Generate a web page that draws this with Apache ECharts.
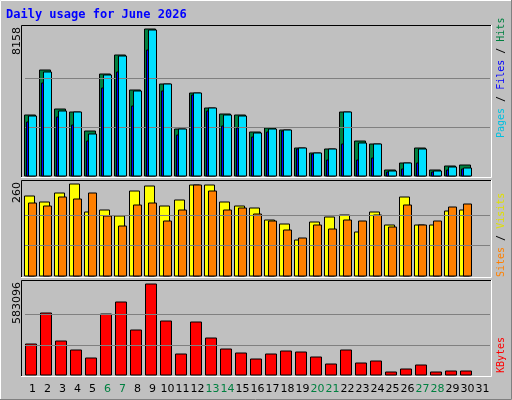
<!DOCTYPE html>
<html><head><meta charset="utf-8">
<script src="https://cdn.jsdelivr.net/npm/echarts@6/dist/echarts.min.js"></script>
<style>html,body{margin:0;padding:0;background:#c0c0c0}#c{width:512px;height:400px}</style>
</head><body><div id="c"></div>
<script>
const days = ['1','2','3','4','5','6','7','8','9','10','11','12','13','14','15','16','17','18','19','20','21','22','23','24','25','26','27','28','29','30','31'];
const weekend = ['6','7','13','14','20','21','27','28'];
const hits = [3404,5901,3737,3570,2516,5680,6752,4791,8158,5124,2645,4625,3792,3460,3404,2460,2682,2571,1572,1295,1517,3570,1961,1794,351,740,1591,351,592,629];
const files = [3330,5809,3626,3570,2350,5625,6678,4736,8103,5124,2627,4625,3774,3404,3330,2387,2627,2553,1572,1277,1517,3570,1850,1776,278,722,1517,278,518,463];
const pages = [3016,5180,3293,2849,1961,4884,5791,3904,7012,4736,2294,4514,3626,2794,2683,2183,2461,2516,1517,1240,907,1795,907,1018,241,407,740,241,352,407];
const visits = [226,209,235,260,181,187,170,240,254,198,215,257,257,209,198,192,158,147,104,153,167,173,125,181,144,223,144,144,184,187];
const sites = [206,198,224,218,235,170,141,201,206,155,187,257,240,187,192,175,155,132,107,144,133,158,155,173,138,201,144,155,195,203];
const kbytes = [198648,397296,217872,160200,108936,390888,467784,288360,583096,346032,134568,339624,237096,166608,140976,102528,134568,153792,147384,115344,70488,160200,76896,89712,19224,38448,64080,19224,25632,25632];
const maxLabels = ['8158','260','583096'];

const panels = [{y0:25,y1:177,top:29.3,base:176.3},{y0:180,y1:277,top:184.3,base:276.3},{y0:280,y1:376,top:284.3,base:375.3}];
const maxes = [8158,260,583096];

function bar(name, gi, data, o0, o1, color, z){
  return {type:'custom', name, xAxisIndex:gi, yAxisIndex:gi, z,
    data: data.map((v,i)=>[i,v]),
    renderItem:(p,api)=>{
      const t=api.coord([api.value(0),api.value(1)]), b=api.coord([api.value(0),0]);
      return {type:'rect', shape:{x:t[0]+o0, y:Math.round(t[1]), width:o1-o0, height:Math.round(b[1])-Math.round(t[1])},
        style:{fill:color, stroke:'#000', lineWidth:1}};
    }};
}
function gridLines(gi, m){
  return {type:'line', xAxisIndex:gi, yAxisIndex:gi, data:[], z:1, silent:true,
    markLine:{symbol:'none', silent:true, label:{show:false}, lineStyle:{color:'#808080', type:'solid', width:1},
      data:[{yAxis:m/3},{yAxis:2*m/3}]}};
}
const grids = panels.map(p=>({left:25, width:465, top:p.top, height:p.base-p.top}));
const xAxes = panels.map((p,i)=>({type:'category', gridIndex:i, data:days, axisLine:{show:false}, axisTick:{show:false}, splitLine:{show:false},
  axisLabel:{show:i===2, margin:8, fontFamily:'DejaVu Sans', fontSize:11, interval:0,
    formatter:v=>weekend.includes(v)?'{w|'+v+'}':'{n|'+v+'}', rich:{w:{color:'#008040',fontFamily:'DejaVu Sans',fontSize:11},n:{color:'#000',fontFamily:'DejaVu Sans',fontSize:11}}}}));
const yAxes = panels.map((p,i)=>({type:'value', gridIndex:i, min:0, max:maxes[i], show:false, splitLine:{show:false}}));

const graphics = [
  {type:'rect', shape:{x:0.5,y:0.5,width:511,height:399}, style:{fill:'#c0c0c0', stroke:'#ffffff'}, z:-10},
  {type:'polyline', shape:{points:[[511.5,0],[511.5,399.5],[0,399.5]]}, style:{stroke:'#808080', fill:null, lineWidth:1}, z:-9},
  {type:'text', left:6, top:9, style:{text:'Daily usage for June 2026', fill:'#0000ff', font:'bold 12px "DejaVu Sans Mono"'}}
];
panels.forEach((p,i)=>{
  graphics.push({type:'rect', shape:{x:21,y:p.y0,width:470,height:p.y1-p.y0}, style:{fill:'#c0c0c0'}, z:-8});
  graphics.push({type:'polyline', shape:{points:[[21.5,p.y1],[21.5,p.y0+0.5],[491,p.y0+0.5]]}, style:{stroke:'#000', fill:null}, z:-7});
  graphics.push({type:'polyline', shape:{points:[[491.5,p.y0],[491.5,p.y1+0.5],[21,p.y1+0.5]]}, style:{stroke:'#fff', fill:null}, z:-7});
  graphics.push({type:'text', x:17, y:p.y0+2, rotation:Math.PI/2, style:{text:maxLabels[i], fill:'#000', font:'11px "DejaVu Sans"', align:'right', verticalAlign:'middle'}});
});
const legends = [
  {y:138, parts:[['Pages','#00c0e0'],[' / ','#000'],['Files','#0000ff'],[' / ','#000'],['Hits','#008040']]},
  {y:277, parts:[['Sites','#ff8000'],[' / ','#000'],['Visits','#e0e000']]},
  {y:373, parts:[['KBytes','#ff0000']]}
];
legends.forEach(l=>{
  const rich={}; let txt='';
  l.parts.forEach((pt,k)=>{rich['s'+k]={fill:pt[1], font:'10px "DejaVu Sans Mono"'}; txt+='{s'+k+'|'+pt[0].replace(/ /g,'\u00a0')+'}';});
  graphics.push({type:'text', x:501, y:l.y, rotation:Math.PI/2, style:{text:txt, rich, font:'10px "DejaVu Sans Mono"', align:'left', verticalAlign:'middle'}});
});

const chart = echarts.init(document.getElementById('c'), null, {renderer:'canvas'});
chart.setOption({
  animation:false, backgroundColor:'#c0c0c0',
  grid:grids, xAxis:xAxes, yAxis:yAxes, graphic:graphics,
  series:[
    gridLines(0,maxes[0]), gridLines(1,maxes[1]), gridLines(2,maxes[2]),
    bar('Hits',0,hits,-8,3,'#008040',3),
    bar('Files',0,files,-4,4,'#00e0ff',4),
    bar('Pages',0,pages,-6,-4,'#0000ff',5),
    bar('Visits',1,visits,-8,2,'#ffff00',3),
    bar('Sites',1,sites,-4,4,'#ff8000',4),
    bar('KBytes',2,kbytes,-7,4,'#ff0000',3)
  ]
});
</script></body></html>
